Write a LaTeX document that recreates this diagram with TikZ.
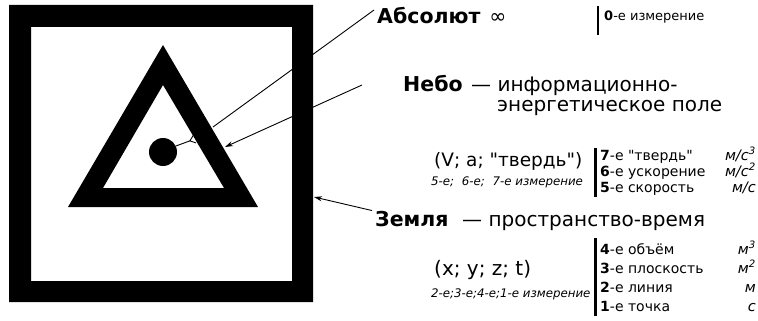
\documentclass[tikz,border=0pt]{standalone}
\usepackage{fontspec}
\setmainfont{DejaVu Sans}[Ligatures=TeXOff]
\usetikzlibrary{arrows.meta}

\begin{document}
\begin{tikzpicture}[x=1pt,y=-1pt,
    every node/.style={inner sep=0pt,anchor=base west},
    head/.style={font=\fontsize{20.5}{24}\selectfont\bfseries},
    desc/.style={font=\fontsize{20}{24}\selectfont},
    note/.style={font=\fontsize{11.8}{14}\selectfont\itshape},
    row/.style={font=\fontsize{14}{16}\selectfont},
    unit/.style={font=\fontsize{14.5}{16}\selectfont\itshape,anchor=base east},
    ptr/.style={line width=0.9pt},
    bar/.style={line width=3pt}]
  \useasboundingbox (0,0) rectangle (758,321);
  % square frame, triangle and dot
  \fill[even odd rule] (9,5) rectangle (313,302) (31,27) rectangle (292,281);
  \fill[even odd rule] (163,45) -- (68,207) -- (258,207) -- cycle
                       (163,85) -- (103,188) -- (224,188) -- cycle;
  \node[circle,fill,minimum size=28pt,anchor=center] (dot) at (163,152) {};
  \coordinate (triA) at (213,127);
  \coordinate (triB) at (225,147);
  \coordinate (sqE) at (314,197);
  \coordinate (dotT) at (195,139);
  \coordinate (neboP) at (362,85);

  % Absolut
  \node[head] (abs) at (377,24) {Абсолют\hspace{9pt}\mdseries∞};
  \draw[line width=1.5pt] (598,6) -- (598,35);
  \node[row,font=\fontsize{13}{15}\selectfont] (d0) at (604,21) {\textbf{0}-е измерение};

  % Nebo
  \node[head] (nebo) at (403,92) {Небо};
  \node[desc] (neboa) at (471,92) {— информационно-};
  \node[desc] (nebob) at (497,111) {энергетическое поле};
  \node[desc,font=\fontsize{18.5}{22}\selectfont] (vat) at (434,166) {(V; a; "твердь")};
  \node[note] (vatn) at (431,185) {5-е;\hspace{4pt} 6-е;\hspace{4pt} 7-е измерение};
  \draw[bar] (595,148) -- (595,197);
  \node[row] (d7) at (600,160) {\textbf{7}-е "твердь"};
  \node[row] (d6) at (600,176) {\textbf{6}-е ускорение};
  \node[row] (d5) at (600,192) {\textbf{5}-е скорость};
  \node[unit] (u7) at (756,160) {м/с\textsuperscript{3}};
  \node[unit] (u6) at (756,176) {м/с\textsuperscript{2}};
  \node[unit] (u5) at (756,192) {м/с};

  % Zemlya
  \node[head] (zem) at (375,226) {Земля};
  \node[desc] (zema) at (462,226) {— пространство-время};
  \node[desc] (xyz) at (434,275) {(x; y; z; t)};
  \node[note] (xyzn) at (431,297) {2-е;3-е;4-е;1-е измерение};
  \draw[bar] (595,238) -- (595,316);
  \node[row] (d4) at (600,254) {\textbf{4}-е объём};
  \node[row] (d3) at (600,273) {\textbf{3}-е плоскость};
  \node[row] (d2) at (600,292) {\textbf{2}-е линия};
  \node[row] (d1) at (600,311) {\textbf{1}-е точка};
  \node[unit] (u4) at (756,254) {м\textsuperscript{3}};
  \node[unit] (u3) at (756,273) {м\textsuperscript{2}};
  \node[unit] (u2) at (756,292) {м};
  \node[unit] (u1) at (756,311) {с};

  % pointers
  \draw[ptr] (abs.west) ++(-3,-6) -- (triA);
  \draw[ptr,-{Stealth[length=8pt,width=5pt]}] (neboP) -- (triB);
  \draw[ptr,-{Stealth[length=8pt,width=5pt]}] (zem.west) ++(-3,-8) -- (sqE);
  \draw[ptr,-{Straight Barb[reversed,length=5pt,width=8pt]}] (dot.25) -- (dotT);
\end{tikzpicture}
\end{document}
